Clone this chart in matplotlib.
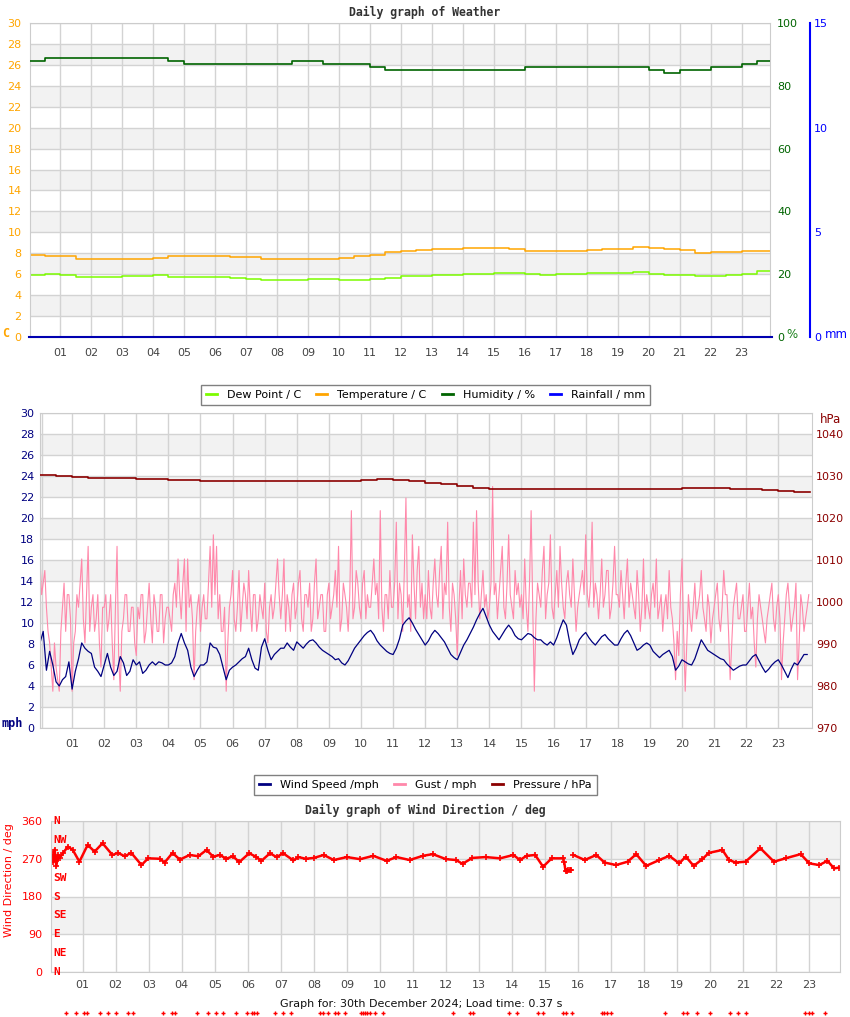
import numpy as np
import matplotlib
matplotlib.use("Agg")
import matplotlib.pyplot as plt
from matplotlib.lines import Line2D

# ---------------- data ----------------
hour_labels = ["%02d" % h for h in range(1, 24)]

# top panel, half-hourly readings
half_hours = np.arange(48) / 2
temperature = [7.8, 7.7, 7.7, 7.5, 7.45, 7.45, 7.45, 7.5, 7.55, 7.7,
               7.7, 7.7, 7.7, 7.65, 7.6, 7.45, 7.45, 7.45, 7.45, 7.5,
               7.55, 7.7, 7.85, 8.1, 8.2, 8.3, 8.4, 8.45, 8.5, 8.5,
               8.5, 8.4, 8.25, 8.2, 8.2, 8.25, 8.35, 8.4, 8.45, 8.6,
               8.55, 8.45, 8.3, 8.05, 8.1, 8.15, 8.2, 8.2]
dew_point = [5.9, 6.0, 5.95, 5.75, 5.75, 5.75, 5.8, 5.85, 5.9, 5.75,
             5.75, 5.7, 5.7, 5.6, 5.55, 5.45, 5.4, 5.4, 5.5, 5.5,
             5.45, 5.45, 5.55, 5.65, 5.8, 5.85, 5.9, 5.95, 6.0, 6.05,
             6.15, 6.1, 6.0, 5.95, 6.0, 6.05, 6.1, 6.1, 6.1, 6.25,
             6.05, 5.95, 5.95, 5.8, 5.85, 5.95, 6.05, 6.35]
humidity = [88, 89, 89, 89, 89, 89, 89, 89, 89, 88,
            87, 87, 87, 87, 87, 87, 87, 88, 88, 87,
            87, 87, 86, 85, 85, 85, 85, 85, 85, 85,
            85, 85, 86, 86, 86, 86, 86, 86, 86, 86,
            85, 84, 85, 85, 86, 86, 87, 88]
rainfall = [0.0] * 48

# middle panel: wind speed every 6 minutes, gust every 3 minutes
tenth_hours = np.arange(240) / 10
wind_speed = [8.1, 9.2, 5.5, 7.3, 6.0, 4.4, 4.0, 4.6, 4.9, 6.3,
              3.7, 5.4, 6.6, 8.1, 7.6, 7.3, 7.1, 5.8, 5.4, 4.9,
              6.0, 7.1, 5.8, 5.0, 5.4, 6.8, 6.2, 5.0, 5.4, 6.5,
              6.0, 6.3, 5.2, 5.5, 6.0, 6.3, 6.0, 6.3, 6.2, 6.0,
              6.0, 6.2, 6.8, 8.1, 9.0, 8.1, 7.4, 5.8, 4.9, 5.5,
              6.0, 6.0, 6.3, 8.1, 7.7, 7.6, 7.0, 5.8, 4.6, 5.5,
              5.8, 6.0, 6.3, 6.6, 6.8, 7.6, 6.5, 5.7, 5.5, 7.7,
              8.5, 7.4, 6.5, 7.0, 7.3, 7.6, 7.6, 8.1, 7.7, 7.4,
              8.2, 7.9, 7.6, 8.0, 8.3, 8.4, 8.1, 7.7, 7.4, 7.2,
              7.0, 6.8, 6.5, 6.6, 6.2, 6.0, 6.4, 7.0, 7.6, 8.0,
              8.4, 8.8, 9.1, 9.3, 8.9, 8.3, 7.9, 7.6, 7.3, 7.1,
              7.0, 7.6, 8.5, 9.8, 10.2, 10.5, 10.0, 9.4, 8.9, 8.4,
              7.9, 8.3, 8.9, 9.3, 9.0, 8.6, 8.2, 7.6, 7.0, 6.7,
              6.5, 7.2, 7.9, 8.4, 9.0, 9.6, 10.3, 10.9, 11.4, 10.6,
              9.8, 9.2, 8.8, 8.4, 8.9, 9.4, 9.8, 9.4, 8.8, 8.5,
              8.4, 8.7, 9.0, 8.9, 8.6, 8.4, 8.4, 8.1, 7.9, 8.2,
              7.9, 8.6, 9.5, 10.3, 9.8, 8.2, 7.0, 7.6, 8.4, 8.8,
              9.1, 8.6, 8.2, 7.9, 8.3, 8.7, 8.9, 8.5, 8.2, 7.9,
              7.9, 8.5, 9.0, 9.3, 8.8, 8.1, 7.4, 7.6, 7.9, 8.1,
              7.9, 7.3, 7.0, 6.7, 7.0, 7.2, 7.4, 6.8, 5.5, 5.9,
              6.5, 6.3, 6.1, 6.0, 6.6, 7.5, 8.4, 7.9, 7.4, 7.2,
              7.0, 6.8, 6.6, 6.5, 6.1, 5.8, 5.5, 5.7, 5.9, 6.0,
              6.0, 6.4, 6.8, 7.0, 6.4, 5.8, 5.3, 5.6, 6.0, 6.3,
              6.5, 6.0, 5.4, 4.8, 5.6, 6.2, 6.0, 6.5, 7.0, 7.0]
gust_hours = np.arange(480) / 20
gust = [16.1, 12.7, 13.8, 15.0, 11.5, 9.2, 8.1, 5.8, 3.5, 8.1, 5.8, 4.6, 3.5, 9.2, 11.5, 13.8, 9.2, 12.7, 12.7, 10.4,
        3.5, 8.1, 9.2, 12.7, 11.5, 13.8, 16.1, 10.4, 8.1, 12.7, 17.3, 9.2, 11.5, 12.7, 9.2, 10.4, 12.7, 8.1, 5.8, 11.5,
        11.5, 12.7, 9.2, 10.4, 12.7, 8.1, 4.6, 11.5, 17.3, 6.9, 3.5, 9.2, 10.4, 12.7, 12.7, 9.2, 9.2, 11.5, 11.5, 8.1,
        6.9, 11.5, 10.4, 12.7, 12.7, 8.1, 9.2, 11.5, 13.8, 10.4, 8.1, 12.7, 11.5, 9.2, 9.2, 12.7, 12.7, 8.1, 10.4, 11.5,
        11.5, 10.4, 9.2, 12.7, 13.8, 11.5, 16.1, 12.7, 10.4, 13.8, 16.1, 9.2, 16.1, 11.5, 12.7, 10.4, 4.6, 9.2, 11.5, 12.7,
        9.2, 11.5, 12.7, 10.4, 10.4, 13.8, 17.3, 11.5, 18.4, 12.7, 17.3, 10.4, 12.7, 9.2, 9.2, 11.5, 3.5, 8.1, 11.5, 12.7,
        15.0, 10.4, 9.2, 11.5, 15.0, 9.2, 11.5, 13.8, 12.7, 10.4, 15.0, 11.5, 9.2, 12.7, 12.7, 9.2, 10.4, 12.7, 11.5, 10.4,
        13.8, 9.2, 8.1, 11.5, 12.7, 10.4, 11.5, 13.8, 16.1, 12.7, 10.4, 12.7, 16.1, 9.2, 12.7, 11.5, 9.2, 12.7, 13.8, 10.4,
        11.5, 13.8, 15.0, 10.4, 9.2, 12.7, 12.7, 11.5, 13.8, 9.2, 10.4, 13.8, 16.1, 10.4, 11.5, 12.7, 12.7, 9.2, 9.2, 12.7,
        13.8, 10.4, 11.5, 12.7, 15.0, 11.5, 17.3, 9.2, 10.4, 13.8, 12.7, 11.5, 9.2, 12.7, 20.7, 10.4, 11.5, 15.0, 13.8, 11.5,
        10.4, 13.8, 15.0, 10.4, 12.7, 11.5, 11.5, 13.8, 16.1, 12.7, 13.8, 10.4, 20.7, 11.5, 9.2, 12.7, 12.7, 10.4, 15.0, 11.5,
        11.5, 13.8, 19.6, 10.4, 13.8, 12.7, 9.2, 15.0, 21.9, 11.5, 12.7, 9.2, 18.4, 13.8, 10.4, 15.0, 17.3, 11.5, 13.8, 10.4,
        12.7, 10.4, 15.0, 11.5, 10.4, 13.8, 16.1, 12.7, 11.5, 15.0, 17.3, 10.4, 13.8, 12.7, 19.6, 11.5, 9.2, 13.8, 12.7, 10.4,
        6.9, 11.5, 15.0, 10.4, 16.1, 12.7, 11.5, 13.8, 13.8, 11.5, 19.6, 12.7, 20.7, 13.8, 10.4, 12.7, 15.0, 11.5, 12.7, 10.4,
        11.5, 13.8, 23.0, 12.7, 13.8, 10.4, 12.7, 15.0, 17.3, 11.5, 10.4, 13.8, 18.4, 12.7, 11.5, 10.4, 15.0, 12.7, 13.8, 11.5,
        12.7, 10.4, 16.1, 11.5, 9.2, 13.8, 20.7, 11.5, 3.5, 10.4, 13.8, 12.7, 11.5, 15.0, 17.3, 10.4, 12.7, 13.8, 18.4, 11.5,
        10.4, 12.7, 15.0, 11.5, 17.3, 13.8, 11.5, 10.4, 13.8, 15.0, 12.7, 11.5, 16.1, 12.7, 9.2, 11.5, 12.7, 13.8, 15.0, 12.7,
        18.4, 12.7, 11.5, 13.8, 19.6, 11.5, 13.8, 12.7, 10.4, 12.7, 16.1, 11.5, 12.7, 15.0, 15.0, 10.4, 11.5, 13.8, 17.3, 12.7,
        12.7, 11.5, 15.0, 12.7, 10.4, 13.8, 16.1, 11.5, 13.8, 12.7, 11.5, 10.4, 15.0, 12.7, 9.2, 11.5, 16.1, 10.4, 12.7, 11.5,
        10.4, 12.7, 13.8, 11.5, 16.1, 10.4, 11.5, 12.7, 9.2, 11.5, 12.7, 10.4, 15.0, 11.5, 10.4, 8.1, 4.6, 9.2, 6.9, 12.7,
        16.1, 9.2, 3.5, 8.1, 12.7, 10.4, 9.2, 11.5, 13.8, 10.4, 11.5, 12.7, 15.0, 11.5, 10.4, 9.2, 12.7, 11.5, 8.1, 10.4,
        11.5, 12.7, 13.8, 10.4, 9.2, 11.5, 15.0, 12.7, 12.7, 9.2, 4.6, 8.1, 11.5, 12.7, 13.8, 10.4, 10.4, 11.5, 12.7, 9.2,
        9.2, 11.5, 13.8, 10.4, 11.5, 8.1, 5.8, 10.4, 12.7, 11.5, 10.4, 9.2, 8.1, 10.4, 11.5, 12.7, 13.8, 10.4, 9.2, 11.5,
        12.7, 10.4, 4.6, 8.1, 10.4, 12.7, 13.8, 11.5, 9.2, 10.4, 11.5, 13.8, 4.6, 8.1, 12.7, 11.5, 9.2, 10.4, 11.5, 12.7]
pressure = [1030.2, 1030.0, 1029.8, 1029.5, 1029.5, 1029.5, 1029.2, 1029.4,
            1029.0, 1029.0, 1028.9, 1028.8, 1028.8, 1028.8, 1028.8, 1028.7,
            1028.8, 1028.9, 1028.9, 1028.9, 1029.1, 1029.2, 1029.1, 1028.7,
            1028.4, 1028.1, 1027.6, 1027.2, 1027.0, 1027.0, 1027.0, 1027.0,
            1026.9, 1026.9, 1026.9, 1026.8, 1026.9, 1026.9, 1027.0, 1027.0,
            1027.1, 1027.1, 1027.2, 1027.0, 1026.8, 1026.7, 1026.5, 1026.3]

# bottom panel, wind direction
wd_hours = [0.05, 0.1, 0.15, 0.2, 0.25, 0.3, 0.4, 0.55, 0.7, 0.9, 1.15, 1.36,
            1.6, 1.9, 2.07, 2.27, 2.47, 2.78, 2.98, 3.33, 3.48, 3.72, 3.94,
            4.24, 4.5, 4.75, 4.95, 5.15, 5.35, 5.55, 5.74, 6.04, 6.24, 6.41,
            6.67, 6.87, 7.07, 7.38, 7.53, 7.75, 8.0, 8.3, 8.6, 9.0, 9.4, 9.8,
            10.2, 10.5, 10.9, 11.3, 11.6, 12.0, 12.3, 12.5, 12.8, 13.2, 13.64,
            14.04, 14.24, 14.44, 14.7, 14.94, 15.2, 15.55, 15.7, 15.86, 16.2,
            16.55, 16.8, 17.15, 17.5, 17.76, 18.06, 18.46, 18.76, 19.06, 19.26,
            19.5, 19.76, 19.96, 20.37, 20.57, 20.77, 21.07, 21.52, 21.93,
            22.28, 22.74, 23.0, 23.3, 23.55, 23.75, 23.9]
wd_deg = [285, 262, 292, 252, 278, 272, 283, 299, 291, 263, 303, 287,
          307, 279, 284, 276, 284, 255, 271, 270, 261, 284, 268,
          279, 276, 291, 275, 279, 270, 276, 262, 283, 275, 265,
          283, 274, 283, 266, 274, 270, 272, 279, 267, 274, 269, 277,
          265, 274, 267, 277, 281, 269, 267, 258, 272, 274, 271,
          279, 267, 277, 279, 251, 271, 271, np.nan, 279, 267,
          279, 261, 255, 263, 281, 253, 267, 277, 259, 275,
          253, 269, 284, 291, 267, 261, 263, 295, 263,
          271, 281, 259, 255, 265, 247, 249]
wd_low_hours = [15.58, 15.62, 15.66, 15.7, 15.74, 15.78]
wd_low_deg = [262, 240, 241, 242, 243, 244]
calm_hours = [0.48, 0.81, 1.03, 1.13, 1.52, 1.77, 2.0, 2.37, 2.51, 3.43, 3.69,
              3.79, 4.45, 4.8, 5.03, 5.25, 5.64, 5.98, 6.12, 6.18, 6.28, 6.82,
              7.07, 7.32, 8.18, 8.27, 8.43, 8.64, 8.74, 8.94, 9.44, 9.5, 9.55,
              9.6, 9.7, 9.85, 10.1, 12.22, 12.73, 12.81, 13.92, 14.16, 14.8,
              14.93, 15.54, 15.64, 15.81, 16.72, 16.79, 16.87, 16.99, 18.62,
              19.19, 19.31, 19.6, 19.98, 20.59, 20.83, 21.09, 22.88, 22.98,
              23.08, 23.48]
calm_level = -98
compass = ["N", "NE", "E", "SE", "S", "SW", "W", "NW", "N"]
compass_deg = [0, 45, 90, 135, 180, 225, 270, 315, 360]

# ---------------- styling ----------------
W, H = 850, 1017
GRID = "#d3d3d3"
BAND = "#f2f2f2"
XLAB = "#444444"
C_DEW = "#7cfc00"
C_TEMP = "#ffa500"
C_HUM = "#006400"
C_RAIN = "#0000ff"
C_WS = "#000080"
C_GUST = "#ff88aa"
C_PRES = "#8b0000"
C_DIR = "#ff0000"
MONO = "DejaVu Sans Mono"


def px_axes(x0, y0, x1, y1):
    return fig.add_axes([x0 / W, 1 - y1 / H, (x1 - x0) / W, (y1 - y0) / H])


def ftext(x, y, s, **kw):
    fig.text(x / W, 1 - y / H, s, **kw)


def base_style(ax, ymax, step, band_step):
    ax.set_ylim(0, ymax)
    for lo in np.arange(band_step, ymax, 2 * band_step):
        ax.axhspan(lo, lo + band_step, color=BAND, zorder=0, lw=0)
    ax.set_yticks(np.arange(0, ymax + 0.1, step))
    ax.set_xticks(range(1, 24))
    ax.set_xticklabels(hour_labels)
    ax.grid(True, color=GRID, lw=1)
    ax.set_axisbelow(True)
    for s in ax.spines.values():
        s.set_color("#cccccc")
    ax.tick_params(axis="x", length=0, colors=XLAB, labelsize=8)


fig = plt.figure(figsize=(W / 100, H / 100), dpi=100)

# ---------------- top: weather ----------------
ax1 = px_axes(30, 23, 770, 337)
base_style(ax1, 30, 2, 2)
ax1.set_xlim(0.03, 23.92)
ax1.tick_params(axis="y", length=0, colors=C_TEMP, labelsize=8, pad=6)
ax1.tick_params(axis="x", pad=8)
hh = np.append(half_hours, 24)
ax1.plot(hh, dew_point + dew_point[-1:], color=C_DEW, lw=1.1, drawstyle="steps-post")
ax1.plot(hh, temperature + temperature[-1:], color=C_TEMP, lw=1.1, drawstyle="steps-post")

ax1h = ax1.twinx()
ax1h.set_ylim(0, 100)
ax1h.set_yticks(range(0, 101, 20))
ax1h.tick_params(axis="y", length=0, colors=C_HUM, labelsize=8, pad=5)
for s in ax1h.spines.values():
    s.set_visible(False)
ax1h.plot(hh, humidity + humidity[-1:], color=C_HUM, lw=1.2, drawstyle="steps-post")

ax1r = ax1.twinx()
ax1r.set_ylim(0, 15)
ax1r.set_yticks([0, 5, 10, 15])
for s in ax1r.spines.values():
    s.set_visible(False)
ax1r.spines["right"].set_visible(True)
ax1r.spines["right"].set_position(("axes", (810 - 30) / 740))
ax1r.spines["right"].set_color(C_RAIN)
ax1r.spines["right"].set_linewidth(1.5)
ax1r.tick_params(axis="y", length=0, colors=C_RAIN, labelsize=8, pad=3)
ax1r.plot(hh, rainfall + rainfall[-1:], color="#0000b0", lw=1.5, clip_on=False,
          drawstyle="steps-post")

ftext(425, 12, "Daily graph of Weather", ha="center", va="center", family=MONO,
      weight="bold", fontsize=8.3, color="#333333")
ftext(2, 333, "C", color=C_TEMP, weight="bold", family=MONO, fontsize=8.5, va="center")
ftext(786, 334, "%", color="#1a801a", fontsize=8.5, va="center")
ftext(825, 335, "mm", color=C_RAIN, fontsize=8.5, va="center")

# ---------------- middle: wind / pressure ----------------
ax2 = px_axes(40, 413, 812, 728)
base_style(ax2, 30, 2, 2)
ax2.set_xlim(0, 24.05)
ax2.axvline(0.05, color=GRID, lw=1, zorder=0.5)
ax2.tick_params(axis="y", length=0, colors=C_WS, labelsize=8, pad=4)
ax2.tick_params(axis="x", pad=8)
ax2.plot(gust_hours, gust, color=C_GUST, lw=0.8)
ax2.plot(tenth_hours, wind_speed, color=C_WS, lw=0.9)

ax2p = ax2.twinx()
ax2p.set_ylim(970, 1045)
ax2p.set_yticks(range(970, 1041, 10))
for s in ax2p.spines.values():
    s.set_visible(False)
ax2p.tick_params(axis="y", length=0, colors=C_PRES, labelsize=8, pad=3)
ax2p.plot(hh, pressure + pressure[-1:], color=C_PRES, lw=1.2, drawstyle="steps-post")

ftext(820, 419, "hPa", color=C_PRES, fontsize=8.5, va="center")
ftext(1, 723, "mph", color=C_WS, weight="bold", family=MONO, fontsize=8.5, va="center")

# legends
leg_kw = dict(loc="center", fontsize=8, frameon=True, fancybox=False,
              edgecolor="#808080", handlelength=1.0, handletextpad=0.9,
              columnspacing=1.35, borderpad=0.45, framealpha=1)
h1 = [Line2D([], [], color=c, lw=2) for c in (C_DEW, C_TEMP, C_HUM, C_RAIN)]
l1 = fig.legend(h1, ["Dew Point / C", "Temperature / C", "Humidity / %", "Rainfall / mm"],
                bbox_to_anchor=(425.5 / W, 1 - 395 / H), ncol=4, **leg_kw)
l1.get_frame().set_linewidth(1)
h2 = [Line2D([], [], color=c, lw=2) for c in (C_WS, C_GUST, C_PRES)]
l2 = fig.legend(h2, ["Wind Speed /mph", "Gust / mph", "Pressure / hPa"],
                bbox_to_anchor=(425.5 / W, 1 - 785 / H), ncol=3, **leg_kw)
l2.get_frame().set_linewidth(1)

# ---------------- bottom: wind direction ----------------
ax3 = px_axes(51, 821, 840, 972)
ax3.set_ylim(0, 360)
ax3.axhspan(90, 180, color=BAND, zorder=0, lw=0)
ax3.axhspan(270, 360, color=BAND, zorder=0, lw=0)
ax3.set_yticks([0, 90, 180, 270, 360])
ax3.set_xticks(range(1, 24))
ax3.set_xticklabels(hour_labels)
ax3.grid(True, color=GRID, lw=1)
ax3.set_axisbelow(True)
for s in ax3.spines.values():
    s.set_color("#cccccc")
ax3.set_xlim(0.04, 23.93)
ax3.tick_params(axis="x", length=0, colors=XLAB, labelsize=8, pad=6)
ax3.tick_params(axis="y", length=0, colors=C_DIR, labelsize=8, pad=6)
ax3.plot(wd_hours, wd_deg, color=C_DIR, lw=1.8, marker="+", ms=4, mew=1.2)
ax3.plot(wd_low_hours, wd_low_deg, color=C_DIR, lw=1.8, marker="+", ms=4, mew=1.2)
ax3.plot(calm_hours, [calm_level] * len(calm_hours), ls="none", marker="+",
         ms=3.5, mew=1, color=C_DIR, clip_on=False)
for lab, d in zip(compass, compass_deg):
    ax3.text(0.003, d, lab, transform=ax3.get_yaxis_transform(), ha="left",
             va="center", family=MONO, weight="bold", color=C_DIR, fontsize=8,
             clip_on=False)

ftext(425, 810, "Daily graph of Wind Direction / deg", ha="center", va="center",
      family=MONO, weight="bold", fontsize=8.3, color="#333333")
ftext(9, 880, "Wind Direction / deg", rotation=90, color=C_DIR, fontsize=8,
      ha="center", va="center")
ftext(421, 1004, "Graph for: 30th December 2024; Load time: 0.37 s", ha="center",
      va="center", fontsize=8, color="#111111")

fig.savefig("out.png", dpi=100)
